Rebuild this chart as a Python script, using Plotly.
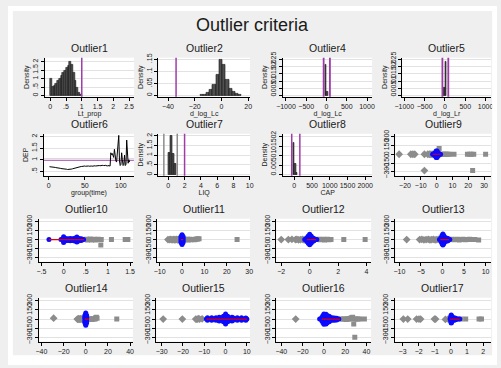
import plotly.graph_objects as go

W, H = 501, 368
M = "\u2212"
FONT = "Liberation Sans, Arial, sans-serif"

# ---------------- data ----------------
# Outlier1 : histogram of Lt_prop
o1_centers = [0.0278, 0.0833, 0.1389, 0.1944, 0.25, 0.3056, 0.3611, 0.4167, 0.4722,
              0.5278, 0.5833, 0.6389, 0.6944, 0.75, 0.8056, 0.8611, 0.9167, 0.9722]
o1_density = [1.02, 0.53, 0.60, 0.72, 0.86, 1.00, 1.16, 1.33, 1.47,
              1.62, 1.77, 2.00, 1.80, 1.33, 0.86, 0.48, 0.19, 0.06]
o1_width = 0.0556
o1_cut = [1.0]

# Outlier2 : histogram of d_log_Lc
o2_centers = [-14.9, -12.5, -10.1, -7.7, -5.3, -2.9, -0.5, 1.9, 4.3, 6.7, 9.1, 11.5, 13.9]
o2_density = [0.003, 0.005, 0.010, 0.022, 0.045, 0.085, 0.150, 0.128, 0.065, 0.030, 0.015, 0.007, 0.003]
o2_width = 2.4
o2_cut = [-34.0]

# Outlier4 : histogram of d_log_Lc
o4_centers = [-17.5, 27.5]
o4_density = [0.0215, 0.0030]
o4_width = 45
o4_cut = [-70.0, 85.0]

# Outlier5 : histogram of d_log_Lr
o5_centers = [-22.5, 22.5]
o5_density = [0.0058, 0.0235]
o5_width = 45
o5_cut = [-63.0, 82.0]

# Outlier6 : DEP by group(time)
o6_time = list(range(1, 113))
o6_dep = [0.70, 0.70, 0.69, 0.70, 0.69, 0.68, 0.68, 0.67, 0.67, 0.66,
          0.66, 0.65, 0.64, 0.64, 0.63, 0.63, 0.62, 0.62, 0.61, 0.61,
          0.62, 0.60, 0.59, 0.60, 0.59, 0.58, 0.58, 0.57, 0.58, 0.58,
          0.59, 0.60, 0.61, 0.62, 0.63, 0.64, 0.65, 0.66, 0.66, 0.67,
          0.68, 0.69, 0.69, 0.70, 0.71, 0.71, 0.72, 0.72, 0.73, 0.73,
          0.72, 0.73, 0.74, 0.73, 0.73, 0.72, 0.73, 0.72, 0.73, 0.72,
          0.73, 0.74, 0.73, 0.74, 0.73, 0.74, 0.74, 0.73, 0.74, 0.75,
          0.74, 0.75, 0.74, 0.75, 0.76, 0.75, 0.74, 0.75, 0.76, 0.74,
          0.73, 0.75, 0.74, 0.76, 0.73,
          1.30, 1.22, 1.27, 1.15, 1.10, 1.45, 1.15, 0.95, 0.90, 1.35,
          1.50, 2.05, 0.95, 0.75, 0.80, 1.30, 1.00, 0.75, 0.80, 1.20,
          0.75, 0.80, 1.85, 1.10, 0.85, 1.00, 0.90]
o6_cut = [1.0]

# Outlier7 : histogram of LIQ
o7_centers = [0.125, 0.375, 0.625, 0.875]
o7_density = [1.10, 2.00, 1.05, 0.55]
o7_width = 0.25
o7_gray_cut = [-0.55, 1.1]
o7_cut = [2.0]

# Outlier8 : histogram of CAP
o8_centers = [-17.5, 27.5, 72.5]
o8_density = [0.0165, 0.0057, 0.0010]
o8_width = 45
o8_cut = [-72.0, 157.0]

# Outlier9..17 : scatter panels (gray low / gray high / blue kept / red segment)
o9_lo_x = [-23.7, -16.3, -15.0, -13.8, -7.7, -5.6, -4.6, -3.6, -2.8, -7.7]
o9_lo_y = [0, 0, 0, 0, 0, 0, 0, 0, 0, -280]
o9_hi_x = [3.2, 4.0, 4.8, 5.6, 6.4, 7.2, 8.2, 11.0, 19.5, 21.0, 22.0, 23.5, 31.0, 22.8, 1.6]
o9_hi_y = [0, 0, 0, 0, 0, 0, 0, 0, 0, 0, 0, 0, 0, -280, 100]
o9_blue_x = [-2.5, -2.0, -1.5, -1.0, -0.5, 0.0, 0.5, 1.0, 1.5, 2.0, 2.5,
             -1.2, -0.6, 0.0, 0.6, 1.2, -1.2, -0.6, 0.0, 0.6, 1.2, -0.3, 0.3, -0.3, 0.3]
o9_blue_y = [0, 0, 0, 0, 0, 0, 0, 0, 0, 0, 0,
             22, 30, 32, 30, 22, -22, -30, -32, -30, -22, 55, 55, -55, -55]
o9_red_x = [-2.5, 2.5]

o10_lo_x = []
o10_lo_y = []
o10_hi_x = [0.48, 0.51, 0.54, 0.57, 0.60, 0.63, 0.66, 0.69, 0.72, 0.75, 0.78, 0.82, 0.85, 0.84, 1.08, 1.39, 1.42, 1.45]
o10_hi_y = [0, 6, -6, 0, 8, -8, 0, 5, -5, 0, 4, 0, 0, -91, 0, 0, 0, 0]
o10_blue_x = [-0.33, -0.06, 0.0, 0.05, 0.10, 0.15, 0.20, 0.25, 0.30, 0.35, 0.40, 0.45,
              0.0, 0.0, 0.0, 0.0, 0.05, 0.05, 0.10, 0.15, 0.20, 0.25, 0.30, 0.35, 0.40,
              0.10, 0.15, 0.20, 0.25, 0.30, 0.35, 0.40, 0.30, 0.30]
o10_blue_y = [0, 0, 0, 0, 0, 0, 0, 0, 0, 0, 0, 0,
              25, 48, -25, -48, 18, -18, 15, 20, 15, 22, 28, 20, 15,
              -15, -20, -15, -22, -28, -20, -15, 42, -42]
o10_red_x = [-0.33, 0.46]

o11_lo_x = [-6.3, -5.6, -5.0, -4.5, -4.0, -3.6, -3.2, -2.8, -2.4, -2.0, -1.6, -1.2, -0.8]
o11_lo_y = [0, 0, 4, -4, 0, 5, -5, 0, 4, -4, 0, 3, -3]
o11_hi_x = [0.8, 1.2, 1.6, 2.0, 2.4, 2.8, 3.2, 3.6, 4.0, 4.5, 5.0, 5.5, 6.0, 6.6, 7.0, 7.6, 24.6]
o11_hi_y = [0, 4, -4, 0, 5, -5, 0, 4, -4, 0, 3, -3, 6, 10, 8, 15, 0]
o11_blue_x = [0, 0, 0, 0, 0, 0, 0, 0, 0, -0.45, -0.45, -0.45, -0.45, -0.45, 0.45, 0.45, 0.45, 0.45, 0.45]
o11_blue_y = [-80, -60, -40, -20, 0, 20, 40, 60, 80, -50, -25, 0, 25, 50, -50, -25, 0, 25, 50]
o11_red_x = [-0.5, 0.5]

o12_lo_x = [-2.0, -1.5, -1.25, -1.0, -0.9, -0.78, -0.65, -0.52, -0.4]
o12_lo_y = [0, 0, 5, 0, 4, -4, 0, 3, -3]
o12_hi_x = [0.55, 0.65, 0.75, 0.85, 0.95, 1.05, 1.15, 1.25, 1.35, 1.5, 2.4, 3.9]
o12_hi_y = [0, 4, -4, 0, 5, -5, 0, 4, -4, 0, 0, 0]
o12_blue_x = [-0.35, -0.2, -0.1, 0.0, 0.1, 0.2, 0.3, 0.4, 0.5, -0.2, -0.1, 0.0, 0.1, 0.2,
              -0.2, -0.1, 0.0, 0.1, 0.2, -0.1, 0.0, 0.1, -0.1, 0.0, 0.1, 0.0, 0.0, 0.3, 0.3]
o12_blue_y = [0, 0, 0, 0, 0, 0, 0, 0, 0, 30, 40, 45, 40, 30,
              -30, -40, -45, -40, -30, 62, 70, 62, -62, -70, -62, 88, -88, 20, -20]
o12_red_x = [-0.2, 0.45]

o13_lo_x = [-8.3, -5.3, -4.8, -4.3, -3.8, -3.3, -2.9, -2.5, -2.1, -1.7, -1.3, -0.9]
o13_lo_y = [0, 0, 4, -4, 0, 5, -5, 0, 4, -4, 0, 3]
o13_hi_x = [1.9, 2.3, 2.7, 3.1, 3.5, 3.9, 4.3, 4.8, 5.3, 5.8, 6.3, 6.9, 7.5, 8.4]
o13_hi_y = [0, 4, -4, 0, 5, -5, 0, 4, -4, 0, 6, 0, 0, -6]
o13_blue_x = [-0.7, -0.3, 0.1, 0.5, 0.9, 1.3, 1.7, -0.3, 0.1, 0.5, 0.9, -0.3, 0.1, 0.5, 0.9,
              -0.1, 0.3, -0.1, 0.3, 0.1, 0.1, 1.3, 1.3]
o13_blue_y = [0, 0, 0, 0, 0, 0, 0, 35, 45, 40, 28, -35, -45, -40, -28,
              70, 68, -70, -68, 92, -92, 18, -18]
o13_red_x = [-0.5, 1.5]

o14_lo_x = [-29.0, -7.6, -7.0, -6.4, -5.8, -5.2, -4.6, -4.0, -3.0, -2.0]
o14_lo_y = [15, 0, -6, 6, 0, -6, 6, 0, 0, 0]
o14_hi_x = [1.5, 2.5, 3.5, 4.5, 5.5, 6.5, 7.5, 8.5, 9.0, 9.6, 10.2, 28.0]
o14_hi_y = [0, -5, 5, 0, -5, 0, 5, 0, 22, 30, 12, 0]
o14_blue_x = [0, 0, 0, 0, 0, 0, 0, 0, 0, 0, 0, -0.8, -0.8, -0.8, -0.8, -0.8, 0.8, 0.8, 0.8, 0.8, 0.8]
o14_blue_y = [-100, -80, -60, -40, -20, 0, 20, 40, 60, 80, 100, -60, -30, 0, 30, 60, -60, -30, 0, 30, 60]
o14_red_x = [-1.0, 3.0]

o15_lo_x = [-29.3, -20.3, -14.0, -13.4, -12.8, -12.2, -11.0]
o15_lo_y = [0, 0, 0, -6, 6, 0, 4]
o15_hi_x = []
o15_hi_y = []
o15_blue_x = [-9, -8, -7, -6, -5, -4, -3, -2, -1, 0, 1, 2, 3, 4, 5, 6, 7, 8, 9, 10,
              -8.5, -6.5, -4.5, -2.5, -0.5, 1.5, 3.5, 5.5, 7.5, 9.5,
              -8.5, -6.5, -4.5, -2.5, -0.5, 1.5, 3.5, 5.5, 7.5, 9.5,
              -1, 0, 1, -1, 0, 1, 0, 0, -3, 3, -3, 3]
o15_blue_y = [0, 0, 0, 0, 0, 0, 0, 0, 0, 0, 0, 0, 0, 0, 0, 0, 0, 0, 0, 0,
              20, 20, 20, 20, 22, 22, 20, 20, 20, 18,
              -20, -20, -20, -20, -22, -22, -20, -20, -20, -18,
              45, 52, 45, -45, -52, -45, 82, -82, 32, 30, -32, -30]
o15_red_x = [-9.0, 10.0]

o16_lo_x = [-26.5]
o16_lo_y = [0]
o16_hi_x = [16, 18, 19.5, 21, 22, 23, 24, 25, 26, 27, 28.5, 30, 32, 33.5, 38, 28, 29]
o16_hi_y = [0, 0, 0, -6, 6, 0, 0, 12, 22, 30, 0, 0, 0, 0, 0, -82, -295]
o16_blue_x = [-4, -2, 0, 2, 4, 6, 8, 10, 12, 14, -2, 0, 2, 4, 6, -2, 0, 2, 4, 6,
              -1, 1, 3, 5, -1, 1, 3, 5, 0, 2, 0, 2, 8, 10, 12, 8, 10, 12]
o16_blue_y = [0, 0, 0, 0, 0, 0, 0, 0, 0, 0, 28, 32, 32, 30, 25, -28, -32, -32, -30, -25,
              55, 60, 58, 45, -55, -60, -58, -45, 85, 80, -85, -80, 20, 18, 15, -20, -18, -15]
o16_red_x = [-2.0, 15.0]

o17_lo_x = [-2.95, -2.68, -2.13, -1.98, -1.88, -1.02, -0.95, -0.34, -0.17]
o17_lo_y = [0, 0, 0, 0, 0, 0, 0, -6, 0]
o17_hi_x = [0.62, 0.92, 1.75, 1.9]
o17_hi_y = [0, 0, 0, 0]
o17_blue_x = [-0.05, 0.05, 0.15, 0.25, 0.35, 0.45, 0.55, 0.0, 0.1, 0.2, 0.3, 0.0, 0.1, 0.2, 0.3,
              0.0, 0.05, 0.0, 0.05, 0.02, 0.02]
o17_blue_y = [0, 0, 0, 0, 0, 0, 0, 22, 25, 20, 12, -22, -25, -20, -12, 45, 50, -45, -50, 65, -62]
o17_red_x = [-0.05, 0.55]

# tick labels
sc_yticks = [-300, -150, 0, 150, 300]
sc_ylabels = [M + "300", M + "150", "0", "150", "300"]

# ---------------- styling ----------------
BG = "#efefef"
PURPLE = "#a03ca8"
GRAY = "#8c8c8c"
BLUE = "#0a0aff"
RED = "#e00000"
BAR_FILL = "#505050"
GRID = "#e2e2e2"
TXT = "#1a1a1a"
TICK_FS = 7
TITLE_FS = 10.5

fig = go.Figure()
layout = {}
shapes = []
annots = []


def ids(k):
    s = "" if k == 1 else str(k)
    return "x" + s, "y" + s, "xaxis" + s, "yaxis" + s


def setup_axes(k, box, xr, yr, xt, xl, yt, yl, xtitle=None, ytitle=None):
    xid, yid, xname, yname = ids(k)
    x0, x1, top, bot = box
    common = dict(showline=True, linecolor="black", linewidth=1, ticks="outside",
                  ticklen=3, tickwidth=1, tickcolor="black", zeroline=False,
                  tickfont=dict(size=TICK_FS, color=TXT, family=FONT), fixedrange=True)
    layout[xname] = dict(domain=[x0 / W, x1 / W], range=xr, anchor=yid, showgrid=False,
                         tickmode="array", tickvals=xt, ticktext=xl, tickangle=0, **common)
    layout[yname] = dict(domain=[1 - bot / H, 1 - top / H], range=yr, anchor=xid,
                         showgrid=True, gridcolor=GRID, gridwidth=0.8,
                         tickmode="array", tickvals=yt, ticktext=yl, tickangle=-90, **common)
    if xtitle:
        layout[xname]["title"] = dict(text=xtitle, font=dict(size=7, color=TXT, family=FONT), standoff=1)
    if ytitle:
        layout[yname]["title"] = dict(text=ytitle, font=dict(size=7, color=TXT, family=FONT), standoff=1)


def title(k, box, ty, text):
    x0, x1, top, bot = box
    annots.append(dict(text=text, x=(x0 + x1) / 2 / W, y=1 - ty / H, xref="paper", yref="paper",
                       showarrow=False, xanchor="center", yanchor="middle",
                       font=dict(size=TITLE_FS, color=TXT, family=FONT)))


def vlines(k, vals, color, width):
    xid, yid, _, _ = ids(k)
    for v in vals:
        shapes.append(dict(type="line", xref=xid, yref=yid + " domain", x0=v, x1=v, y0=0, y1=1,
                           line=dict(color=color, width=width)))


def hist(k, centers, dens, width):
    xid, yid, _, _ = ids(k)
    fig.add_trace(go.Bar(x=centers, y=dens, width=width, xaxis=xid, yaxis=yid, showlegend=False,
                         marker=dict(color=BAR_FILL, line=dict(color="#111111", width=0.6))))


def scatter_panel(k, lo_x, lo_y, hi_x, hi_y, bx, by, red_x):
    xid, yid, _, _ = ids(k)
    if lo_x:
        fig.add_trace(go.Scatter(x=lo_x, y=lo_y, mode="markers", xaxis=xid, yaxis=yid, showlegend=False,
                                 marker=dict(symbol="diamond", size=6, color=GRAY)))
    if hi_x:
        fig.add_trace(go.Scatter(x=hi_x, y=hi_y, mode="markers", xaxis=xid, yaxis=yid, showlegend=False,
                                 marker=dict(symbol="square", size=5, color=GRAY)))
    fig.add_trace(go.Scatter(x=bx, y=by, mode="markers", xaxis=xid, yaxis=yid, showlegend=False,
                             marker=dict(symbol="circle", size=5, color=BLUE)))
    fig.add_trace(go.Scatter(x=red_x, y=[0, 0], mode="lines", xaxis=xid, yaxis=yid, showlegend=False,
                             line=dict(color=RED, width=1.2)))


# panel boxes in pixels: (left, right, top, bottom) and title y
R1, R2, R3, R4 = (53, 93), (131, 174), (218, 262), (299, 344)
T1, T2, T3, T4 = 43, 121, 208, 289

# ---- row 1 ----
b = (38, 129) + R1
hist(1, o1_centers, o1_density, o1_width); vlines(1, o1_cut, PURPLE, 1.5)
setup_axes(1, b, [-0.164, 2.655], [-0.06, 2.22], [0, .5, 1, 1.5, 2, 2.5], ["0", ".5", "1", "1.5", "2", "2.5"],
           [0, .5, 1, 1.5, 2], ["0", ".5", "1", "1.5", "2"], "Lt_prop", "Density")
title(1, b, T1, "Outlier1")

b = (154, 248) + R1
hist(2, o2_centers, o2_density, o2_width); vlines(2, o2_cut, PURPLE, 1.5)
setup_axes(2, b, [-47.3, 21.4], [-0.0055, 0.157], [-40, -20, 0, 20], [M + "40", M + "20", "0", "20"],
           [0, .05, .1, .15], ["0", ".05", ".1", ".15"], "d_log_Lc", "Density")
title(2, b, T1, "Outlier2")

b = (282, 373) + R1
hist(3, o4_centers, o4_density, o4_width); vlines(3, o4_cut, PURPLE, 1.8)
setup_axes(3, b, [-1067, 1125], [-0.0007, 0.0262], [-1000, -500, 0, 500, 1000],
           [M + "1000", M + "500", "0", "500", "1000"],
           [0, .005, .01, .015, .02, .025], ["0", ".005", ".01", ".015", ".02", ".025"], "d_log_Lc", "Density")
title(3, b, T1, "Outlier4")

b = (404, 495) + R1
hist(4, o5_centers, o5_density, o5_width); vlines(4, o5_cut, PURPLE, 1.8)
setup_axes(4, b, [-1049, 1136], [-0.0007, 0.0262], [-1000, -500, 0, 500, 1000],
           [M + "1000", M + "500", "0", "500", "1000"],
           [0, .005, .01, .015, .02, .025], ["0", ".005", ".01", ".015", ".02", ".025"], "d_log_Lr", "Density")
title(4, b, T1, "Outlier5")

# ---- row 2 ----
b = (37, 129) + R2
fig.add_trace(go.Scatter(x=o6_time, y=o6_dep, mode="lines", xaxis="x5", yaxis="y5", showlegend=False,
                         line=dict(color="black", width=1)))
for v in o6_cut:
    shapes.append(dict(type="line", xref="x5 domain", yref="y5", x0=0, x1=1, y0=v, y1=v,
                       line=dict(color=PURPLE, width=2.2), layer="below"))
setup_axes(5, b, [-6.4, 118], [0.31, 2.12], [0, 50, 100], ["0", "50", "100"],
           [.5, 1, 1.5, 2], [".5", "1", "1.5", "2"], "group(time)", "DEP")
title(5, b, T2, "Outlier6")

b = (154, 248) + R2
hist(6, o7_centers, o7_density, o7_width)
vlines(6, o7_gray_cut, GRAY, 1.5); vlines(6, o7_cut, PURPLE, 1.5)
setup_axes(6, b, [-1.23, 10.05], [-0.06, 2.1], [0, 2, 4, 6, 8, 10], ["0", "2", "4", "6", "8", "10"],
           [0, .5, 1, 1.5, 2], ["0", ".5", "1", "1.5", "2"], "LIQ", "Density")
title(6, b, T2, "Outlier7")

b = (282, 373) + R2
hist(7, o8_centers, o8_density, o8_width); vlines(7, o8_cut, PURPLE, 1.5)
setup_axes(7, b, [-311, 2193], [-0.0006, 0.0215], [0, 500, 1000, 1500, 2000],
           ["0", "500", "1000", "1500", "2000"],
           [0, .005, .01, .015, .02], ["0", ".005", ".01", ".015", ".02"], "CAP", "Density")
title(7, b, T2, "Outlier8")

SC_YR = [-368, 350]
b = (397, 495) + R2
scatter_panel(8, o9_lo_x, o9_lo_y, o9_hi_x, o9_hi_y, o9_blue_x, o9_blue_y, o9_red_x)
setup_axes(8, b, [-26, 34.5], SC_YR, [-20, -10, 0, 10, 20, 30], [M + "20", M + "10", "0", "10", "20", "30"],
           sc_yticks, sc_ylabels)
title(8, b, T2, "Outlier9")

# ---- row 3 ----
b = (32, 128) + R3
scatter_panel(9, o10_lo_x, o10_lo_y, o10_hi_x, o10_hi_y, o10_blue_x, o10_blue_y, o10_red_x)
setup_axes(9, b, [-0.55, 1.565], SC_YR, [-.5, 0, .5, 1, 1.5], [M + ".5", "0", ".5", "1", "1.5"],
           sc_yticks, sc_ylabels)
title(9, b, T3, "Outlier10")

b = (153, 248) + R3
scatter_panel(10, o11_lo_x, o11_lo_y, o11_hi_x, o11_hi_y, o11_blue_x, o11_blue_y, o11_red_x)
setup_axes(10, b, [-11.05, 30.4], SC_YR, [-10, 0, 10, 20, 30], [M + "10", "0", "10", "20", "30"],
           sc_yticks, sc_ylabels)
title(10, b, T3, "Outlier11")

b = (275, 372) + R3
scatter_panel(11, o12_lo_x, o12_lo_y, o12_hi_x, o12_hi_y, o12_blue_x, o12_blue_y, o12_red_x)
setup_axes(11, b, [-2.34, 4.32], SC_YR, [-2, 0, 2, 4], [M + "2", "0", "2", "4"],
           sc_yticks, sc_ylabels)
title(11, b, T3, "Outlier12")

b = (397, 495) + R3
scatter_panel(12, o13_lo_x, o13_lo_y, o13_hi_x, o13_hi_y, o13_blue_x, o13_blue_y, o13_red_x)
setup_axes(12, b, [-10.9, 11.3], SC_YR, [-10, -5, 0, 5, 10], [M + "10", M + "5", "0", "5", "10"],
           sc_yticks, sc_ylabels)
title(12, b, T3, "Outlier13")

# ---- row 4 ----
b = (32, 128) + R4
scatter_panel(13, o14_lo_x, o14_lo_y, o14_hi_x, o14_hi_y, o14_blue_x, o14_blue_y, o14_red_x)
setup_axes(13, b, [-42, 42.6], SC_YR, [-40, -20, 0, 20, 40], [M + "40", M + "20", "0", "20", "40"],
           sc_yticks, sc_ylabels)
title(13, b, T4, "Outlier14")

b = (152, 248) + R4
scatter_panel(14, o15_lo_x, o15_lo_y, o15_hi_x, o15_hi_y, o15_blue_x, o15_blue_y, o15_red_x)
setup_axes(14, b, [-32.5, 11.5], SC_YR, [-30, -20, -10, 0, 10], [M + "30", M + "20", M + "10", "0", "10"],
           sc_yticks, sc_ylabels)
title(14, b, T4, "Outlier15")

b = (275, 372) + R4
scatter_panel(15, o16_lo_x, o16_lo_y, o16_hi_x, o16_hi_y, o16_blue_x, o16_blue_y, o16_red_x)
setup_axes(15, b, [-44.6, 44.3], SC_YR, [-40, -20, 0, 20, 40], [M + "40", M + "20", "0", "20", "40"],
           sc_yticks, sc_ylabels)
title(15, b, T4, "Outlier16")

b = (396, 495) + R4
scatter_panel(16, o17_lo_x, o17_lo_y, o17_hi_x, o17_hi_y, o17_blue_x, o17_blue_y, o17_red_x)
setup_axes(16, b, [-3.5, 2.5], SC_YR, [-3, -2, -1, 0, 1, 2], [M + "3", M + "2", M + "1", "0", "1", "2"],
           sc_yticks, sc_ylabels)
title(16, b, T4, "Outlier17")

# main title
annots.append(dict(text="Outlier criteria", x=250.5 / W, y=1 - 19 / H, xref="paper", yref="paper",
                   showarrow=False, xanchor="center", yanchor="middle",
                   font=dict(size=18, color=TXT, family=FONT)))

# white outer border
for (a0, a1, c0, c1) in [(0, 5, 0, H), (496, W, 0, H), (0, W, 0, 5), (0, W, 358, H)]:
    shapes.append(dict(type="rect", xref="paper", yref="paper", x0=a0 / W, x1=a1 / W,
                       y0=1 - c1 / H, y1=1 - c0 / H, fillcolor="white", line=dict(width=0)))

fig.update_layout(width=W, height=H, margin=dict(l=0, r=0, t=0, b=0),
                  paper_bgcolor=BG, plot_bgcolor="white", showlegend=False,
                  font=dict(family=FONT, color=TXT), shapes=shapes, annotations=annots,
                  bargap=0, **layout)

fig.write_html("out.html")
